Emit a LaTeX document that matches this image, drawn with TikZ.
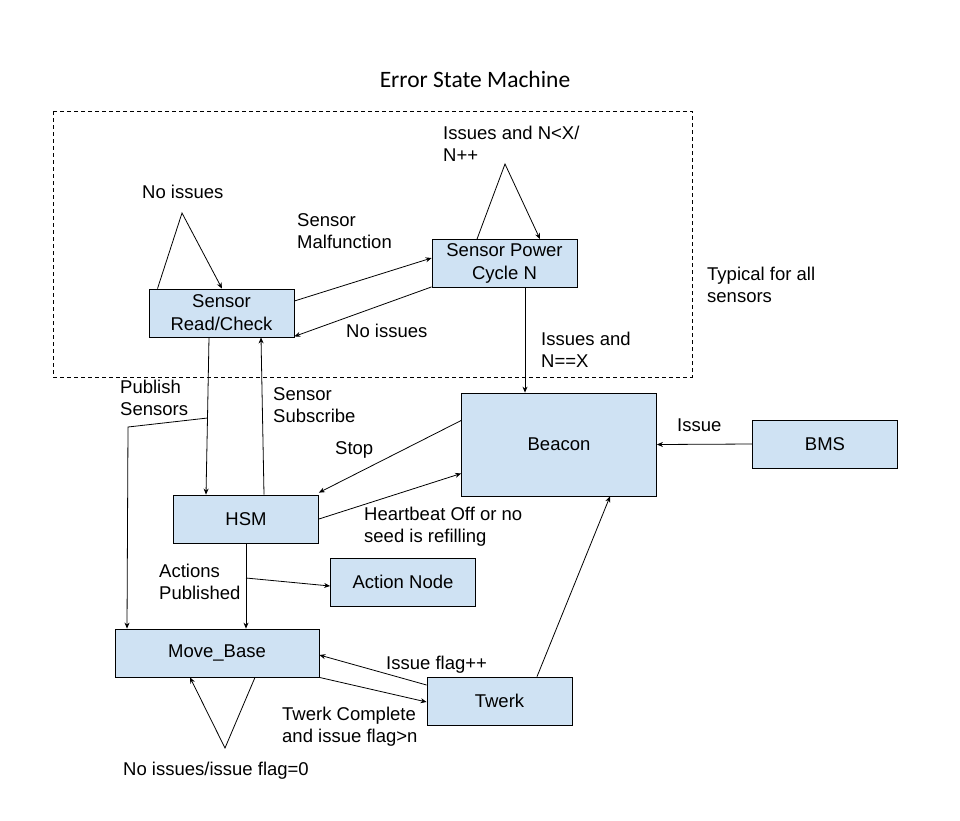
\documentclass[tikz,border=0pt]{standalone}
\usepackage{fontspec}
\setmainfont{Liberation Sans}
\newfontfamily\titlefont{Carlito}
\usetikzlibrary{arrows.meta}
\definecolor{boxblue}{HTML}{CFE2F3}

\begin{document}
\begin{tikzpicture}[x=1pt,y=-1pt,
    state/.style={draw, fill=boxblue, line width=0.8pt, inner sep=0pt,
      minimum width=145pt, minimum height=48pt, align=center,
      font=\fontsize{18.5}{23}\selectfont},
    lbl/.style={anchor=base west, inner sep=0pt, align=left,
      font=\fontsize{18.5}{22}\selectfont},
    arr/.style={-{Stealth[length=6pt,width=5pt]}, line width=0.8pt},
    plain/.style={line width=0.8pt}]
    \useasboundingbox (0,0) rectangle (960,820);
    \node[anchor=base, font=\titlefont\fontsize{23.5}{28}\selectfont] (title) at (475,87) {Error State Machine};
    % sensor group (labels sit on their last baseline)
    \draw[dashed, dash pattern=on 4pt off 3pt, line width=0.8pt] (53,111) rectangle (692,377);
    \node[state] (sensor) at (221.5,313) {Sensor\\Read/Check};
    \node[state] (power) at (504.5,263.5) {Sensor Power\\Cycle N};
    \node[lbl] (typical) at (707,302) {Typical for all\\sensors};
    % main states
    \node[state, minimum width=195pt, minimum height=103pt] (beacon) at (559,444.5) {Beacon};
    \node[state] (bms) at (825,444) {BMS};
    \node[state] (hsm) at (246,519) {HSM};
    \node[state] (action) at (403,582) {Action Node};
    \node[state, minimum width=204pt] (movebase) at (217,653) {Move\_Base};
    \node[state] (twerk) at (499.5,701) {Twerk};
    % self loops
    \coordinate (sensorTop) at (182,213);
    \coordinate (powerTop) at (505,164);
    \coordinate (baseBot) at (225,748);
    \draw[arr] ([xshift=-64pt]sensor.north) -- (sensorTop) -- ([xshift=0.5pt]sensor.north);
    \draw[arr] ([xshift=-27.5pt]power.north) -- (powerTop) -- ([xshift=35.5pt]power.north);
    \draw[arr] ([xshift=38pt]movebase.south) -- (baseBot) -- ([xshift=-27pt]movebase.south);
    \node[lbl] (noIssuesA) at (142,198) {No issues};
    \node[lbl] (issuesLess) at (443,161) {Issues and N<X/\\N++};
    \node[lbl] (noIssuesC) at (123,775) {No issues/issue flag=0};
    % sensor <-> power cycle
    \draw[arr] ([yshift=12pt]sensor.east) -- ([yshift=5.5pt]power.west);
    \draw[arr] ([yshift=1pt]power.south west) -- ([yshift=1pt]sensor.south east);
    \node[lbl] (malfunction) at (297,248) {Sensor\\Malfunction};
    \node[lbl] (noIssuesB) at (346,337) {No issues};
    \draw[arr] ([xshift=20.5pt]power.south) -- ([xshift=-34pt]beacon.north);
    \node[lbl] (issuesEq) at (541,367) {Issues and\\N==X};
    % publish / subscribe
    \coordinate (pubA) at (207.5,418);
    \coordinate (pubB) at (128,427);
    \draw[plain] ([xshift=-12.5pt]sensor.south) -- (pubA);
    \draw[arr] (pubA) -- ([xshift=-40pt]hsm.north);
    \draw[arr] (pubA) -- (pubB) -- ([xshift=-90pt]movebase.north);
    \draw[arr] ([xshift=18pt]hsm.north) -- ([xshift=39.5pt]sensor.south);
    \node[lbl] (publish) at (120,415) {Publish\\Sensors};
    \node[lbl] (subscribe) at (273,422) {Sensor\\Subscribe};
    % hsm <-> beacon
    \draw[arr] ([yshift=24pt]beacon.west) -- ([yshift=2pt]hsm.north east);
    \draw[arr] (hsm.east) -- ([yshift=-29pt]beacon.west);
    \node[lbl] (stop) at (335,454) {Stop};
    \node[lbl] (heartbeat) at (364,542) {Heartbeat Off or no\\seed is refilling};
    \draw[arr] (bms.west) -- (beacon.east);
    \node[lbl] (issue) at (677,431) {Issue};
    % actions
    \coordinate (actA) at (246,578);
    \draw[plain] (hsm.south) -- (actA);
    \draw[arr] (actA) -- ([xshift=29pt]movebase.north);
    \draw[arr] (actA) -- ([yshift=-4pt]action.west);
    \node[lbl] (actions) at (159,599) {Actions\\Published};
    % twerk
    \draw[arr] ([yshift=16pt]twerk.west) -- ([yshift=-2pt]movebase.east);
    \draw[arr] (movebase.south east) -- ([yshift=-1pt]twerk.west);
    \draw[arr] ([xshift=37.5pt]twerk.north) -- ([xshift=51pt]beacon.south);
    \node[lbl] (flag) at (386,669) {Issue flag++};
    \node[lbl] (complete) at (282,742) {Twerk Complete\\and issue flag>n};
\end{tikzpicture}
\end{document}
